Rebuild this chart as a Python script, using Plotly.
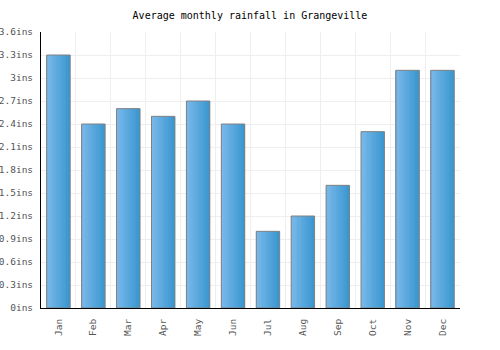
import plotly.graph_objects as go

months = ["Jan", "Feb", "Mar", "Apr", "May", "Jun", "Jul", "Aug", "Sep", "Oct", "Nov", "Dec"]
rainfall = [3.3, 2.4, 2.6, 2.5, 2.7, 2.4, 1.0, 1.2, 1.6, 2.3, 3.1, 3.1]
y_ticks = [0, 0.3, 0.6, 0.9, 1.2, 1.5, 1.8, 2.1, 2.4, 2.7, 3.0, 3.3, 3.6]
y_labels = ["0ins", "0.3ins", "0.6ins", "0.9ins", "1.2ins", "1.5ins", "1.8ins",
            "2.1ins", "2.4ins", "2.7ins", "3ins", "3.3ins", "3.6ins"]

fig = go.Figure()

bar_w = 0.67
n_strips = 14
c0 = (122, 184, 234)
c1 = (58, 152, 208)
sw = bar_w / n_strips
for i in range(n_strips):
    t = i / (n_strips - 1)
    col = tuple(round(a + (b - a) * t) for a, b in zip(c0, c1))
    fig.add_trace(go.Bar(
        x=months, y=rainfall,
        width=sw * 1.08, offset=-bar_w / 2 + i * sw,
        marker=dict(color="rgb(%d,%d,%d)" % col, line=dict(width=0)),
        hoverinfo="skip", showlegend=False,
    ))
fig.add_trace(go.Bar(
    x=months, y=rainfall, width=bar_w, offset=-bar_w / 2,
    marker=dict(color="rgba(0,0,0,0)", line=dict(color="#808080", width=1)),
    showlegend=False,
))

fig.update_layout(
    width=500, height=350,
    barmode="overlay",
    margin=dict(l=41, r=40, t=32, b=42),
    paper_bgcolor="white", plot_bgcolor="white",
    font=dict(family="DejaVu Sans Mono", size=9.5, color="#555555"),
    title=dict(text="Average monthly rainfall in Grangeville", x=0.5, xanchor="center",
               y=0.955, yref="container", yanchor="middle",
               font=dict(family="DejaVu Sans Mono", size=10, color="#000000")),
    xaxis=dict(tickangle=-90, showgrid=True, gridcolor="#eeeeee", tickson="boundaries",
               showline=True, linecolor="#000000", linewidth=1, ticks="",
               ticklabelstandoff=6, automargin=False,
               range=[-0.5, 11.5]),
    yaxis=dict(range=[0, 3.6], tickvals=y_ticks, ticktext=y_labels, showgrid=True,
               gridcolor="#eeeeee", showline=True, linecolor="#000000", linewidth=1,
               ticks="", zeroline=False, ticklabelstandoff=5, automargin=False),
)

fig.write_html("out.html")
